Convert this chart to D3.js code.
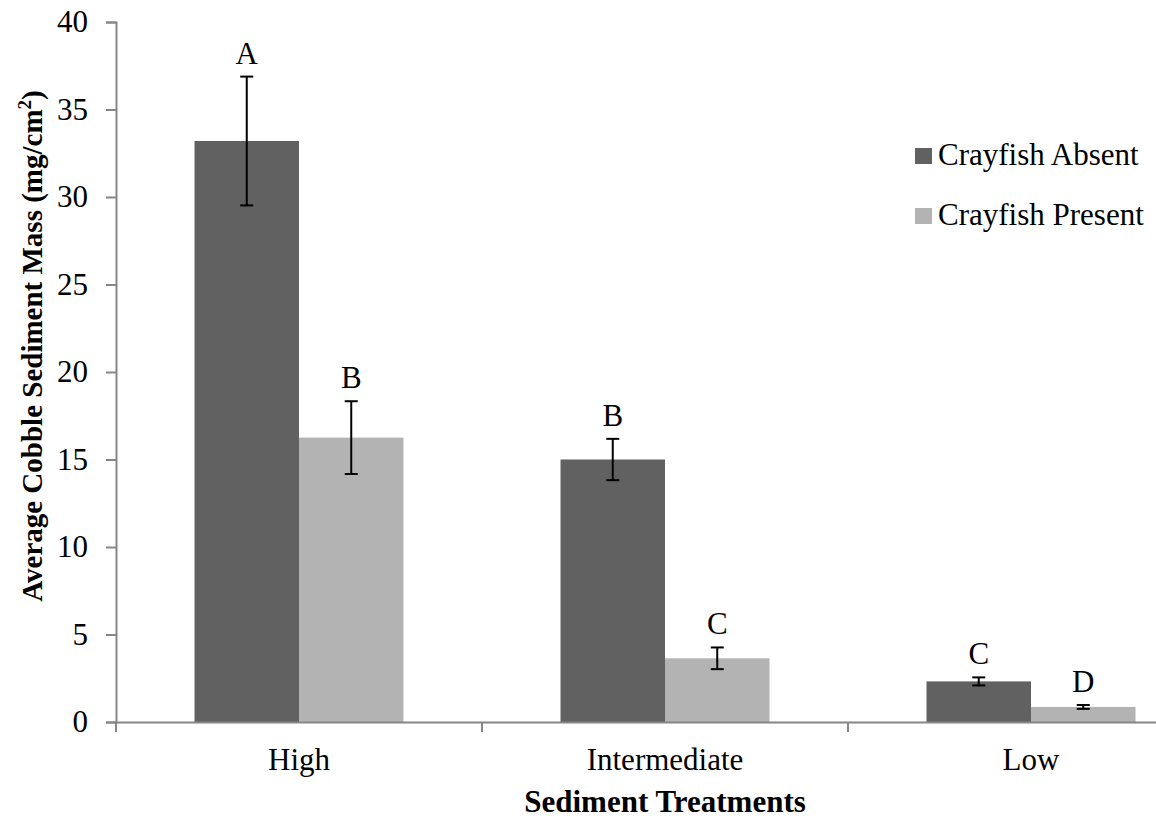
<!DOCTYPE html>
<html>
<head>
<meta charset="utf-8">
<script src="https://cdn.jsdelivr.net/npm/d3@7"></script>
<style>
  body { margin: 0; background: #fff; }
  svg { display: block; }
  svg text { font-family: "Liberation Serif", "Times New Roman", serif; }
</style>
</head>
<body>
<svg id="chart"></svg>
<script>
// data
const treatments = ["High", "Intermediate", "Low"];
const series = ["Crayfish Absent", "Crayfish Present"];
const absentMeans = [33.2, 15.0, 2.32];
const absentErr = [3.68, 1.18, 0.23];
const presentMeans = [16.25, 3.64, 0.86];
const presentErr = [2.08, 0.62, 0.11];
const absentLetters = ["A", "B", "C"];
const presentLetters = ["B", "C", "D"];
const yTicks = [0, 5, 10, 15, 20, 25, 30, 35, 40];

const colors = { "Crayfish Absent": "#616161", "Crayfish Present": "#b3b3b3" };

const rows = [];
treatments.forEach((t, i) => {
  rows.push({ treatment: t, series: series[0], mean: absentMeans[i], err: absentErr[i], letter: absentLetters[i] });
  rows.push({ treatment: t, series: series[1], mean: presentMeans[i], err: presentErr[i], letter: presentLetters[i] });
});

const width = 1156;
const height = 822;
// the plot runs past the right edge of the picture, as in the original
const margin = { left: 116, top: 22, bottom: 100 };
const plotRight = 1214;
const y0 = height - margin.bottom;

const svg = d3.select("#chart")
  .attr("width", width)
  .attr("height", height);

const x = d3.scaleBand()
  .domain(treatments)
  .range([margin.left, plotRight]);

const gap = x.bandwidth() * 0.2145;
const x1 = d3.scaleBand()
  .domain(series)
  .range([gap, x.bandwidth() - gap]);

const y = d3.scaleLinear()
  .domain([0, 40])
  .range([y0, margin.top]);

const axisColor = "#868686";
const fontSize = 31;

// bars
svg.append("g")
  .selectAll("rect")
  .data(rows)
  .enter()
  .append("rect")
  .attr("x", d => x(d.treatment) + x1(d.series))
  .attr("width", x1.bandwidth())
  .attr("y", d => y(d.mean))
  .attr("height", d => y(0) - y(d.mean))
  .attr("fill", d => colors[d.series]);

// error bars
const eb = svg.append("g")
  .attr("stroke", "#000")
  .attr("stroke-width", 2);

rows.forEach(d => {
  const cx = x(d.treatment) + x1(d.series) + x1.bandwidth() / 2;
  eb.append("line")
    .attr("x1", cx).attr("x2", cx)
    .attr("y1", y(d.mean + d.err)).attr("y2", y(d.mean - d.err));
  [d.mean + d.err, d.mean - d.err].forEach(v => {
    eb.append("line")
      .attr("x1", cx - 6.5).attr("x2", cx + 6.5)
      .attr("y1", y(v)).attr("y2", y(v));
  });
});

// significance letters
svg.append("g")
  .selectAll("text")
  .data(rows)
  .enter()
  .append("text")
  .attr("x", d => x(d.treatment) + x1(d.series) + x1.bandwidth() / 2)
  .attr("y", d => y(d.mean + d.err) - 13)
  .attr("text-anchor", "middle")
  .attr("font-size", fontSize)
  .text(d => d.letter);

// y axis
const yAxis = svg.append("g")
  .attr("transform", `translate(${margin.left},0)`)
  .call(d3.axisLeft(y).tickValues(yTicks).tickSize(10).tickPadding(18));
yAxis.select(".domain").attr("stroke", axisColor).attr("stroke-width", 2);
yAxis.selectAll(".tick line").attr("stroke", axisColor).attr("stroke-width", 2);
yAxis.selectAll(".tick text")
  .attr("font-size", fontSize)
  .attr("fill", "#000");

// x axis: ticks sit on the category boundaries
const xAxis = svg.append("g")
  .attr("transform", `translate(0,${y0})`)
  .call(d3.axisBottom(x).tickSize(0).tickPadding(26));
xAxis.select(".domain").attr("stroke", axisColor).attr("stroke-width", 2);
xAxis.selectAll(".tick text")
  .attr("font-size", fontSize)
  .attr("fill", "#000");
xAxis.selectAll(".boundary")
  .data(treatments)
  .enter()
  .append("line")
  .attr("x1", d => x(d)).attr("x2", d => x(d))
  .attr("y1", 0).attr("y2", 10)
  .attr("stroke", axisColor)
  .attr("stroke-width", 2);

// axis titles
svg.append("text")
  .attr("x", (margin.left + plotRight) / 2)
  .attr("y", 812)
  .attr("text-anchor", "middle")
  .attr("font-size", fontSize)
  .attr("font-weight", "bold")
  .text("Sediment Treatments");

const yTitle = svg.append("text")
  .attr("transform", `translate(42,${(margin.top + y0) / 2 - 26}) rotate(-90)`)
  .attr("text-anchor", "middle")
  .attr("font-size", 29)
  .attr("font-weight", "bold");
yTitle.append("tspan").text("Average Cobble Sediment Mass (mg/cm");
yTitle.append("tspan").attr("font-size", 19).attr("dy", -11).text("2");
yTitle.append("tspan").attr("dy", 11).text(")");

// legend
const legend = svg.append("g")
  .selectAll("g")
  .data(series)
  .enter()
  .append("g")
  .attr("transform", (d, i) => `translate(915,${148 + i * 60})`);

legend.append("rect")
  .attr("width", 17)
  .attr("height", 16)
  .attr("fill", d => colors[d]);

legend.append("text")
  .attr("x", 23)
  .attr("y", 17)
  .attr("font-size", fontSize)
  .text(d => d);
</script>
</body>
</html>
